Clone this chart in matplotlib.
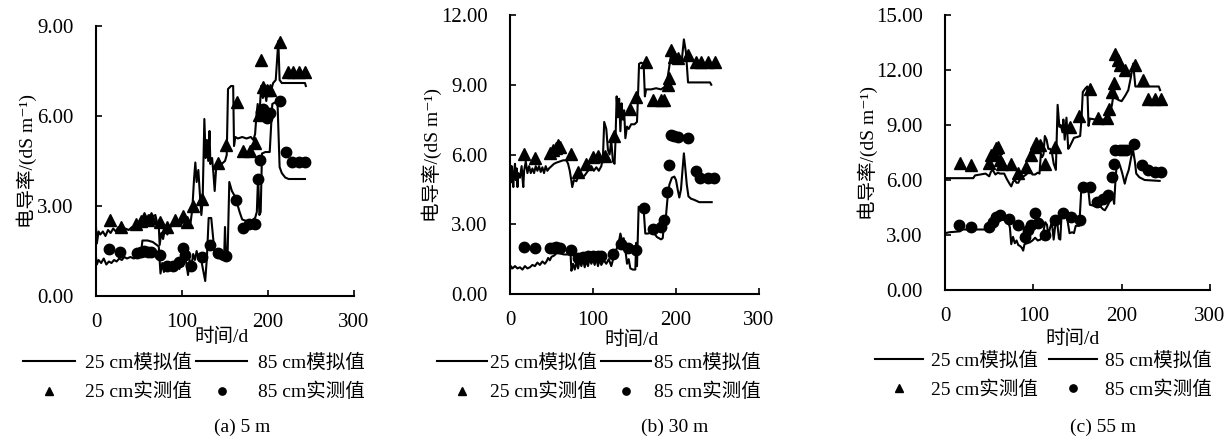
import matplotlib
matplotlib.use("Agg")
import matplotlib.pyplot as plt

plt.rcParams['font.family'] = ['Liberation Serif', 'Noto Sans CJK SC', 'DejaVu Sans']
plt.rcParams['font.size'] = 14
plt.rcParams['axes.unicode_minus'] = False

# ---------------- (a) 5 m ----------------
a_sim25_day = [0, 1, 3, 5, 8, 11, 14, 17, 20, 23, 26, 30, 34, 38, 42, 45, 48, 50, 52, 55, 57, 60,
               63, 66, 69, 71, 73, 74, 76, 78, 80, 83, 86, 90, 94, 98, 102, 106, 110, 112, 114,
               115.5, 117, 119, 121, 122.5, 124, 126, 127.5, 129, 130.5, 132, 133, 135, 136.5,
               138, 140, 143, 146, 150, 152, 153.5, 157, 159.5, 160.5, 162, 165, 170, 175, 180,
               183, 185, 186.5, 188, 190, 192, 194, 196, 198, 200, 203, 206, 209, 212, 213.5,
               216, 230, 243, 244]
a_sim25_val = [2.3, 1.75, 2.15, 2.05, 2.15, 2.0, 2.2, 2.1, 2.25, 2.15, 2.3, 2.2, 2.25, 2.2, 2.3,
               2.25, 2.4, 2.3, 2.55, 2.45, 2.65, 2.6, 2.7, 2.65, 2.7, 2.45, 2.35, 1.7, 2.1, 1.9,
               2.2, 2.05, 2.3, 2.35, 2.4, 2.35, 2.5, 2.4, 2.45, 2.9, 3.9, 4.45, 3.8, 4.2, 3.3,
               2.7, 3.2, 5.9, 4.6, 5.2, 4.5, 5.5, 4.4, 4.6, 4.1, 3.5, 4.4, 4.3, 4.4, 4.5, 4.7,
               6.9, 7.0, 7.0, 5.0, 5.3, 5.25, 5.3, 5.25, 5.3, 5.2, 5.4, 6.0, 6.4, 6.0, 7.0, 6.6,
               6.9, 6.5, 7.0, 6.8, 7.1, 7.2, 8.5, 7.2, 7.1, 7.1, 7.1, 7.0]
a_sim85_day = [0, 1, 3, 6, 9, 12, 15, 18, 21, 24, 27, 30, 33, 36, 40, 44, 48, 52, 54, 60, 66, 73,
               75, 77, 79, 81, 83, 85, 87, 89, 91, 93, 95, 97, 99, 101, 103, 105, 107, 109, 111,
               113, 115, 117, 119, 121, 123, 125, 127, 129, 131, 134, 136, 138, 141, 144, 147,
               149, 150, 151, 153, 155, 158, 161, 164, 167, 170, 175, 180, 185, 187, 188.5, 190,
               191.5, 193, 197, 202, 205, 211, 213.5, 216, 220, 224, 243]
a_sim85_val = [1.3, 1.05, 1.2, 1.1, 1.25, 1.05, 1.15, 1.1, 1.2, 1.15, 1.25, 1.2, 1.3, 1.25, 1.3,
               1.25, 1.3, 1.35, 1.85, 1.85, 1.8, 1.65, 0.75, 1.1, 0.8, 1.0, 0.85, 1.05, 0.9, 1.1,
               0.85, 1.0, 1.2, 0.9, 1.15, 1.0, 1.3, 1.1, 0.7, 1.2, 1.0, 1.4, 1.2, 1.5, 1.25, 1.4,
               1.1, 0.8, 0.5, 1.3, 2.6, 2.6, 2.0, 1.4, 1.3, 1.25, 1.2, 1.3, 2.3, 1.4, 1.35, 3.8,
               3.5, 3.35, 3.1, 2.8, 2.55, 2.5, 2.5, 2.6, 2.8, 4.0, 2.7, 2.8, 4.75, 4.8, 4.8, 6.4,
               6.5, 4.3, 4.1, 3.95, 3.9, 3.9]
a_obs25_day = [16, 29, 47, 52, 56, 60, 64, 74, 82, 92, 101.5, 106, 112.5, 123.5, 142, 151, 163.5,
               171, 179, 185, 189, 191.5, 194.5, 198.5, 202, 214, 223, 229.5, 236, 243]
a_obs25_val = [2.53, 2.31, 2.4, 2.5, 2.6, 2.55, 2.6, 2.47, 2.31, 2.53, 2.67, 2.47, 3.0, 3.25,
               4.43, 5.03, 6.48, 4.83, 4.83, 5.09, 6.05, 7.87, 6.98, 6.87, 6.87, 8.48, 7.46,
               7.46, 7.46, 7.46]
a_obs85_day = [15, 28, 48, 52, 56, 60, 64, 74, 82, 90, 96, 101.5, 103.5, 111, 123, 132.5, 142,
               151, 163, 171, 178, 185, 188, 190.5, 191.5, 194.5, 198.5, 202, 214, 221, 228,
               236, 243]
a_obs85_val = [1.56, 1.48, 1.45, 1.48, 1.5, 1.48, 1.48, 1.37, 1.0, 1.0, 1.14, 1.59, 1.37, 1.0,
               1.31, 1.7, 1.45, 1.33, 3.2, 2.28, 2.39, 2.4, 3.9, 4.53, 6.15, 6.22, 5.92, 6.09,
               6.5, 4.81, 4.48, 4.48, 4.48]

# ---------------- (b) 30 m ----------------
b_sim25_day = [0, 1, 2, 3, 4, 5, 6, 7, 8, 9, 10, 12, 14, 15, 16, 17, 19, 21, 23, 25, 27, 29, 31,
               33, 35, 37, 39, 41, 43, 45, 47, 50, 53, 56, 60, 64, 68, 70, 72, 74, 75, 77, 80, 83,
               86, 90, 94, 98, 101, 104, 107, 110, 112, 113.5, 116, 118, 120, 122, 124, 126, 127,
               128.5, 130, 131.5, 133, 134.5, 136, 137.5, 139, 141, 143, 146, 150, 153, 154,
               155.5, 158, 161, 162.5, 164, 170, 176, 182, 186, 189, 192, 194, 197, 202, 207,
               209.5, 212, 214.5, 220, 230, 241, 242.5]
b_sim25_val = [5.6, 4.8, 5.5, 5.0, 4.6, 5.3, 5.6, 4.9, 5.4, 4.6, 5.2, 5.0, 5.5, 5.0, 4.6, 5.3,
               5.7, 5.2, 5.5, 5.2, 5.4, 5.2, 5.5, 5.3, 5.5, 5.25, 5.45, 5.2, 5.5, 5.3, 5.4, 5.5,
               5.6, 5.65, 5.7, 5.75, 5.75, 5.6, 5.3, 4.85, 4.6, 4.9, 4.85, 5.1, 5.0, 5.1, 5.3,
               5.5, 5.3, 5.45, 5.3, 5.5, 5.9, 7.4, 7.1, 6.2, 6.0, 6.6, 5.7, 5.6, 6.5, 8.5, 7.6,
               8.4, 7.0, 8.2, 7.5, 7.9, 6.7, 7.2, 7.1, 7.3, 7.3, 7.4, 8.3, 9.9, 9.95, 9.9, 8.5,
               8.8, 8.8, 8.85, 8.8, 8.9, 9.1, 9.8, 10.3, 10.1, 10.1, 10.05, 10.95, 10.4, 9.1,
               9.1, 9.1, 9.1, 9.0]
b_sim85_day = [0, 1, 3, 6, 9, 12, 15, 18, 21, 24, 27, 30, 33, 36, 39, 42, 44, 46, 48, 50, 53,
               56, 60, 65, 70, 73, 74, 76, 78, 80, 82, 84, 86, 88, 90, 92, 94, 96, 98, 100, 102,
               104, 106, 108, 110, 113, 116, 119, 122, 125, 128, 131, 133, 135, 137, 139, 141,
               143, 145, 148, 151, 152, 153, 155, 158, 161, 163, 166, 171, 174, 177, 182, 184,
               185.5, 187, 188.5, 190, 192, 195, 198, 200, 202, 204, 206, 208, 209.5, 211, 213,
               215, 218, 222, 228, 243]
b_sim85_val = [1.0, 1.2, 1.1, 1.2, 1.1, 1.15, 1.05, 1.2, 1.1, 1.15, 1.25, 1.2, 1.35, 1.25, 1.4,
               1.3, 1.4, 1.55, 1.45, 1.6, 1.65, 1.75, 1.75, 1.7, 1.7, 1.7, 1.0, 1.3, 1.05, 1.4,
               1.1, 1.45, 1.2, 1.5, 1.15, 1.45, 1.2, 1.55, 1.3, 1.5, 1.25, 1.55, 1.2, 1.5, 1.25,
               1.45, 1.3, 1.5, 1.2, 1.6, 1.9, 2.2, 2.6, 2.3, 2.4, 1.9, 1.3, 1.5, 1.1, 1.05, 1.05,
               2.2, 1.2, 3.75, 3.7, 3.65, 2.6, 2.6, 2.65, 2.6, 2.45, 2.35, 2.4, 3.0, 2.9, 3.6,
               4.2, 4.7, 5.0, 5.05, 4.9, 4.5, 4.15, 4.5, 5.4, 6.05, 5.5, 4.7, 4.2, 4.1, 4.05,
               3.95, 3.95]
b_obs25_day = [16.5, 29.7, 48, 52, 56, 58, 60, 74, 82, 92, 100, 106, 114, 125, 144, 152, 164,
               172, 181.5, 186, 190, 192, 194, 197, 203, 214, 223.7, 230, 238.5, 246.6]
b_obs25_val = [6.01, 5.84, 6.05, 6.19, 6.3, 6.4, 6.33, 6.01, 5.26, 5.59, 5.9, 5.95, 5.95, 6.8,
               7.96, 8.46, 10.0, 8.34, 8.34, 8.34, 9.0, 9.27, 10.5, 10.2, 10.14, 10.28, 10.0,
               10.0, 10.0, 10.0]
b_obs85_day = [16.5, 29.7, 48, 52, 56, 60, 74, 82, 88, 94, 100, 106, 110, 124, 134, 142, 152,
               162, 172, 182, 186, 189, 192, 194, 198, 203, 214, 223.7, 228.5, 238.5, 245.8]
b_obs85_val = [2.04, 1.97, 1.97, 2.0, 2.02, 2.0, 1.9, 1.55, 1.6, 1.62, 1.65, 1.65, 1.62, 1.74,
               2.15, 1.96, 1.9, 3.68, 2.78, 2.89, 3.18, 4.4, 5.55, 6.84, 6.8, 6.74, 6.7, 5.27,
               4.98, 4.98, 4.98]

# ---------------- (c) 55 m ----------------
c_sim25_day = [0, 32, 34, 46, 50, 52, 54, 57, 60, 62, 67, 70, 73, 75, 77, 79, 81, 83, 86, 89,
               92, 96, 99, 102, 105, 107, 108.5, 110, 111.5, 113, 115, 117, 119, 121, 123,
               125.5, 127.5, 129.5, 131, 133, 134, 135.5, 137.5, 139.5, 141, 143, 146, 150, 153,
               154.5, 156, 159, 161, 162.5, 164, 170, 176, 182, 184.5, 186.5, 189, 191.5, 193.5,
               197, 200, 204, 207.5, 210, 213, 215.5, 220, 235, 242, 243.5]
c_sim25_val = [6.1, 6.1, 6.25, 6.35, 6.2, 6.45, 6.55, 6.3, 6.4, 6.35, 6.35, 6.05, 5.8, 5.65,
               5.9, 6.0, 5.85, 5.85, 6.15, 6.2, 6.3, 6.55, 6.3, 6.3, 6.4, 6.35, 7.4, 7.25, 7.4,
               8.4, 8.2, 7.7, 7.7, 7.5, 6.9, 6.55, 10.1, 8.9, 9.0, 8.6, 9.3, 8.2, 9.4, 7.7, 7.8,
               8.0, 8.3, 8.35, 8.4, 9.3, 10.8, 11.0, 11.1, 8.95, 9.35, 9.3, 9.3, 9.3, 9.1, 9.6,
               10.1, 10.9, 10.45, 10.35, 10.3, 10.6, 10.9, 11.5, 12.35, 11.1, 11.1, 11.1, 11.1,
               10.9]
c_sim85_day = [0, 5, 17, 20, 48, 50, 52, 55, 57, 60, 64, 68, 72, 73.5, 75, 77, 79, 81, 83, 85,
               87, 88.5, 90, 93, 96, 99, 102, 105, 108, 111, 113.5, 115.5, 117, 119, 121, 123,
               125, 127, 129, 130.5, 132, 134, 137, 139, 141, 144, 146, 148, 152, 154.5, 158,
               162, 164, 168, 172, 176, 179, 181, 184, 186, 188, 190, 191.5, 193, 194.5, 198,
               200.5, 203.5, 205.5, 208, 211, 213, 215, 216.5, 220, 226, 243]
c_sim85_val = [3.1, 3.15, 3.2, 3.3, 3.3, 3.4, 3.55, 3.65, 3.8, 3.95, 3.85, 3.8, 3.65, 3.4, 2.5,
               2.9, 2.55, 2.7, 2.45, 2.4, 2.3, 2.15, 2.5, 2.55, 2.6, 2.7, 2.85, 2.7, 2.75, 3.1,
               3.7, 3.55, 2.95, 3.4, 3.7, 2.75, 3.6, 3.7, 2.8, 2.75, 4.1, 4.3, 4.2, 3.7, 3.1,
               3.15, 3.1, 3.5, 3.5, 5.65, 5.7, 5.6, 4.65, 4.6, 4.6, 4.55, 4.4, 4.35, 4.6, 4.8,
               4.9, 5.1, 4.7, 6.0, 6.9, 6.8, 6.4, 5.8, 6.2, 6.55, 7.3, 7.6, 7.0, 6.35, 6.15, 6.0,
               5.95]
c_obs25_day = [16.6, 29.8, 50, 52.5, 55, 58, 60, 62, 64, 74.4, 82.7, 92, 97.8, 101.5, 103.4,
               107, 113, 125, 142, 152, 164, 173, 183, 186, 189, 191, 193, 195.5, 198, 203.5,
               214.8, 224, 230, 237.5, 245]
c_obs25_val = [6.95, 6.82, 6.95, 7.36, 7.5, 7.72, 7.82, 7.09, 6.9, 6.9, 6.37, 6.73, 7.36, 7.82,
               8.0, 7.9, 6.9, 7.82, 8.91, 9.49, 10.94, 9.36, 9.36, 9.9, 10.82, 11.31, 12.9,
               12.55, 12.27, 12.0, 12.27, 11.45, 10.4, 10.4, 10.4]
c_obs85_day = [16, 29.8, 50, 54.4, 58, 62, 73, 82.7, 90.2, 94, 97.8, 101.5, 105, 113, 125,
               133.6, 143, 152.5, 156, 164, 172.5, 179, 184.6, 189.5, 191, 192, 198, 201, 205,
               214, 223.5, 230, 237.5, 245]
c_obs85_val = [3.55, 3.45, 3.45, 3.73, 4.0, 4.09, 3.87, 3.55, 2.91, 3.27, 3.55, 4.18, 3.64, 3.0,
               3.82, 4.18, 4.0, 3.82, 5.64, 5.64, 4.82, 4.95, 5.18, 6.18, 6.9, 7.64, 7.64, 7.64,
               7.64, 7.97, 6.82, 6.55, 6.46, 6.46]

x_ticks = [0, 100, 200, 300]
y_max = [9, 12, 15]
captions = ['(a) 5 m', '(b) 30 m', '(c) 55 m']
ylabel = '电导率/(dS m⁻¹)'
xlabel = '时间/d'
legend_labels = ['25 cm模拟值', '25 cm实测值', '85 cm模拟值', '85 cm实测值']

panels = [
    (a_sim25_day, a_sim25_val, a_sim85_day, a_sim85_val,
     a_obs25_day, a_obs25_val, a_obs85_day, a_obs85_val),
    (b_sim25_day, b_sim25_val, b_sim85_day, b_sim85_val,
     b_obs25_day, b_obs25_val, b_obs85_day, b_obs85_val),
    (c_sim25_day, c_sim25_val, c_sim85_day, c_sim85_val,
     c_obs25_day, c_obs25_val, c_obs85_day, c_obs85_val),
]

# layout in pixels (left, top, right, bottom)
W, H = 1231, 443
boxes = [(96, 26, 354, 296), (510, 15, 759, 294), (945, 15, 1210, 290)]
ylab_x = [-0.229, -0.273, -0.253]
xlab_pos = [(0.488, -0.119), (0.49, -0.133), (0.48, -0.145)]
leg_anchor = [(-0.283, -0.215), (-0.293, -0.215), (-0.264, -0.225)]
leg_textpad = [0.55, 0.15, 0.45]
leg_colspace = [0.2, 0.25, 0.55]
leg_handlelen = [2.65, 2.55, 2.45]
cap_x = [242, 675, 1103]

fig = plt.figure(figsize=(W / 100, H / 100), dpi=100)

for i, p in enumerate(panels):
    l, t, r, b = boxes[i]
    ax = fig.add_axes([l / W, 1 - b / H, (r - l) / W, (b - t) / H])
    s25d, s25v, s85d, s85v, o25d, o25v, o85d, o85v = p
    h1, = ax.plot(s25d, s25v, color='black', lw=1.5)
    h3, = ax.plot(s85d, s85v, color='black', lw=1.5)
    h2, = ax.plot(o25d, o25v, '^', color='black', ms=8, ls='none')
    h4, = ax.plot(o85d, o85v, 'o', color='black', ms=7.5, ls='none')

    ax.set_xlim(0, 300)
    ax.set_ylim(0, y_max[i])
    ax.set_xticks(x_ticks)
    ax.set_yticks(range(0, y_max[i] + 1, 3))
    ax.set_yticklabels(['%.2f' % v for v in range(0, y_max[i] + 1, 3)])
    ax.spines['top'].set_visible(False)
    ax.spines['right'].set_visible(False)
    ax.spines['left'].set_linewidth(1.5)
    ax.spines['bottom'].set_linewidth(1.5)
    ax.tick_params(axis='both', direction='in', length=4, width=1.2, labelsize=15)
    ax.tick_params(axis='y', pad=16)
    ax.tick_params(axis='x', pad=12)

    ax.set_ylabel(ylabel, fontsize=14)
    ax.yaxis.set_label_coords(ylab_x[i], 0.5)
    ax.set_xlabel(xlabel, fontsize=14)
    ax.xaxis.set_label_coords(*xlab_pos[i])

    ax.legend([h1, h2, h3, h4], legend_labels, ncol=2, loc='upper left',
              bbox_to_anchor=leg_anchor[i], frameon=False, fontsize=14,
              borderaxespad=0, borderpad=0, handlelength=leg_handlelen[i],
              handletextpad=leg_textpad[i], columnspacing=leg_colspace[i],
              labelspacing=0.55, markerscale=0.7)

    fig.text(cap_x[i] / W, 1 - 427 / H, captions[i], ha='center', va='center', fontsize=14)

fig.savefig('out.png', dpi=100)
